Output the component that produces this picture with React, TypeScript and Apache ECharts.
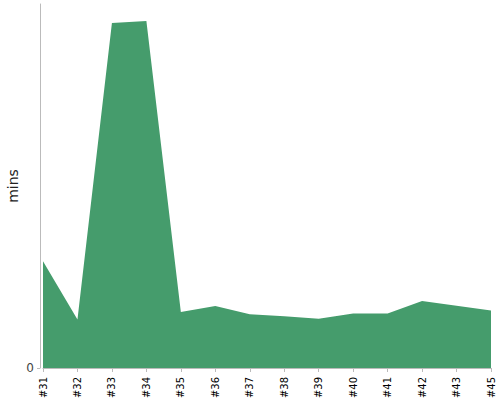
import React, { useEffect, useRef } from "react";
import * as echarts from "echarts";

const categories = ["#31", "#32", "#33", "#34", "#35", "#36", "#37", "#38", "#39", "#40", "#41", "#42", "#43", "#45"];
const minsValues = [29.3, 13.3, 94.8, 95.3, 15.4, 17.0, 14.8, 14.2, 13.5, 15.0, 15.0, 18.4, 17.1, 15.8];
const yTickValues = [0];

export default function App() {
  const ref = useRef<HTMLDivElement>(null);
  useEffect(() => {
    document.body.style.margin = "0";
    if (!ref.current) return;
    const chart = echarts.init(ref.current, undefined, { renderer: "svg" });
    chart.setOption({
      animation: false,
      grid: { left: 43, right: 9, top: 4, bottom: 32, containLabel: false, outerBoundsMode: "none" },
      xAxis: {
        type: "category",
        data: categories,
        boundaryGap: false,
        offset: 4,
        axisLine: { lineStyle: { color: "#bbb", width: 1 } },
        axisTick: { alignWithLabel: true, length: 4, lineStyle: { color: "#bbb" } },
        axisLabel: {
          rotate: 90,
          interval: 0,
          fontSize: 10,
          color: "#000",
          fontFamily: "DejaVu Sans",
          margin: 5,
        },
        splitLine: { show: false },
      },
      yAxis: {
        type: "value",
        min: 0,
        max: 100,
        offset: 3,
        name: "mins",
        nameLocation: "middle",
        nameGap: 20,
        nameMoveOverlap: false,
        nameTextStyle: { fontSize: 14, color: "#222", fontFamily: "DejaVu Sans" },
        axisLine: { show: true, lineStyle: { color: "#bbb", width: 1 } },
        axisTick: { show: true, length: 3, customValues: yTickValues, lineStyle: { color: "#bbb" } },
        axisLabel: {
          customValues: yTickValues,
          fontSize: 12,
          color: "#444",
          fontFamily: "DejaVu Sans",
          margin: 6,
        },
        splitLine: { show: false },
      },
      series: [
        {
          type: "line",
          data: minsValues,
          symbol: "none",
          lineStyle: { width: 0 },
          areaStyle: { color: "#459c6c", opacity: 1 },
        },
      ],
    });
    return () => chart.dispose();
  }, []);
  return <div ref={ref} style={{ width: 500, height: 400 }} />;
}
